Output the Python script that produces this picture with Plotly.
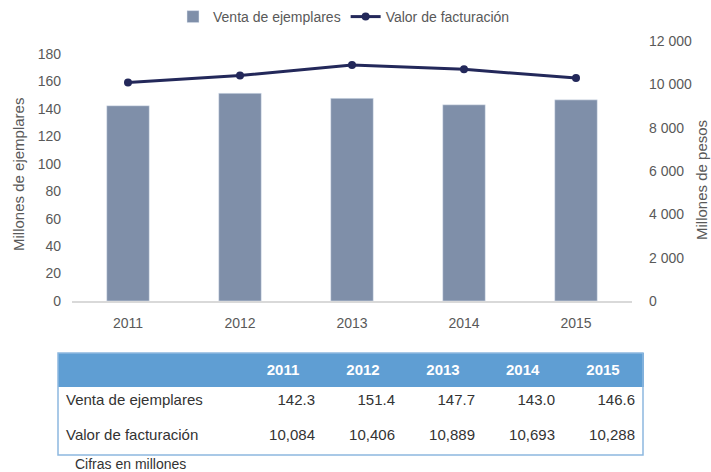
import plotly.graph_objects as go

years = ["2011", "2012", "2013", "2014", "2015"]
ejemplares = [142.3, 151.4, 147.7, 143.0, 146.6]
facturacion = [10084, 10406, 10889, 10693, 10288]
left_ticks = [0, 20, 40, 60, 80, 100, 120, 140, 160, 180]
right_ticks = [0, 2000, 4000, 6000, 8000, 10000, 12000]
right_ticktext = ["0", "2 000", "4 000", "6 000", "8 000", "10 000", "12 000"]
row_labels = ["Venta de ejemplares", "Valor de facturación"]

W, H = 711, 472
FONT = "Liberation Sans Narrow, Arial Narrow, Liberation Sans, Arial, sans-serif"
GRAY = "#595959"
BAR = "#7F8FA9"
LINE = "#23285A"
BLUE = "#5F9ED3"

def px_x(x):
    return x / W

def px_y(y):
    return 1 - y / H

fig = go.Figure()
fig.add_trace(go.Bar(x=years, y=ejemplares, name="Venta de ejemplares",
                     marker=dict(color=BAR), yaxis="y"))
fig.add_trace(go.Scatter(x=years, y=facturacion, name="Valor de facturación",
                         mode="lines+markers", yaxis="y2",
                         line=dict(color=LINE, width=3),
                         marker=dict(color=LINE, size=8)))

cols = [row_labels]
for i in range(len(years)):
    cols.append([f"{ejemplares[i]:.1f}", f"{facturacion[i]:,}"])

fig.add_trace(go.Table(
    domain=dict(x=[px_x(58), px_x(643)], y=[px_y(455), px_y(353)]),
    columnwidth=[185, 80, 80, 80, 80, 80],
    header=dict(values=[""] + [f"<b>{y}</b>" for y in years],
                fill_color=BLUE, line=dict(color=BLUE, width=1),
                align=["left"] + ["center"] * 5, height=32,
                font=dict(family=FONT, size=15, color="white")),
    cells=dict(values=cols, fill_color="white", line=dict(color="white", width=1),
               align=["left"] + ["right"] * 5, height=35,
               font=dict(family=FONT, size=15, color="#333333")),
))

fig.update_layout(
    width=W, height=H,
    margin=dict(l=0, r=0, t=0, b=0, autoexpand=False),
    paper_bgcolor="white", plot_bgcolor="white",
    font=dict(family=FONT, size=14, color=GRAY),
    bargap=0.62,
    showlegend=True,
    legend=dict(orientation="h", x=px_x(344), xanchor="center", y=px_y(17), yanchor="middle",
                font=dict(family=FONT, size=14, color=GRAY),
                traceorder="normal"),
    xaxis=dict(domain=[px_x(72), px_x(632)], type="category", range=[-0.5, 4.5],
               showline=True, linecolor="#D9D9D9", linewidth=2, ticks="",
               showgrid=False, tickfont=dict(family=FONT, size=14, color=GRAY),
               ticklabelstandoff=8, anchor="y", automargin=False),
    yaxis=dict(domain=[px_y(301), px_y(41)], range=[0, 189.5], tickvals=left_ticks,
               showgrid=False, zeroline=False, showline=False, ticks="",
               ticklabelstandoff=10, automargin=False,
               tickfont=dict(family=FONT, size=14, color=GRAY)),
    yaxis2=dict(overlaying="y", side="right", range=[0, 12000], tickvals=right_ticks,
                ticktext=right_ticktext, showgrid=False, zeroline=False, showline=False,
                ticks="", ticklabelstandoff=16, automargin=False,
                tickfont=dict(family=FONT, size=14, color=GRAY)),
    shapes=[dict(type="rect", xref="paper", yref="paper",
                 x0=px_x(58), x1=px_x(643), y0=px_y(455), y1=px_y(353),
                 line=dict(color="#8DB8E0", width=1.5), fillcolor="rgba(0,0,0,0)")],
    annotations=[
        dict(text="Cifras en millones", xref="paper", yref="paper",
             x=px_x(73), y=px_y(464), xanchor="left", yanchor="middle",
             showarrow=False, font=dict(family=FONT, size=14, color="#333333")),
        dict(text="Millones de ejemplares", xref="paper", yref="paper",
             x=px_x(18), y=px_y(175), xanchor="center", yanchor="middle",
             textangle=-90, showarrow=False,
             font=dict(family=FONT, size=15, color=GRAY)),
        dict(text="Millones de pesos", xref="paper", yref="paper",
             x=px_x(701), y=px_y(180), xanchor="center", yanchor="middle",
             textangle=-90, showarrow=False,
             font=dict(family=FONT, size=15, color=GRAY)),
    ],
)

fig.write_html("out.html",
               config={"displayModeBar": False},
               post_script="document.body.style.margin='0';document.body.style.overflow='hidden';")
